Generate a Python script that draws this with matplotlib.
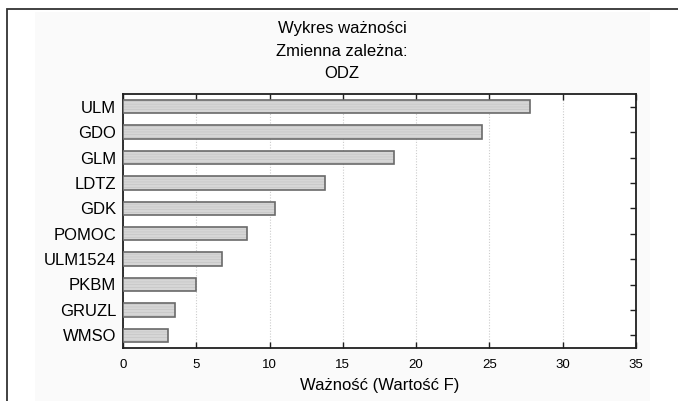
import matplotlib
matplotlib.use("Agg")
import matplotlib.pyplot as plt
from matplotlib.patches import Rectangle

plt.rcParams['font.family'] = ['Liberation Sans', 'DejaVu Sans']

categories = ["ULM", "GDO", "GLM", "LDTZ", "GDK", "POMOC", "ULM1524", "PKBM", "GRUZL", "WMSO"]
values = [27.75, 24.5, 18.5, 13.75, 10.4, 8.45, 6.75, 5.0, 3.55, 3.05]
xticks = [0, 5, 10, 15, 20, 25, 30, 35]
title_lines = ["Wykres ważności", "Zmienna zależna:", "ODZ"]
xlabel = "Ważność (Wartość F)"

W, H = 678, 401
fig = plt.figure(figsize=(W / 100, H / 100), dpi=100)
fig.patch.set_facecolor("white")

# light panel and outer frame
fig.patches.append(Rectangle((35 / W, 0), (650 - 35) / W, 1 - 12 / H,
                             transform=fig.transFigure, facecolor="#fafafa",
                             edgecolor="none", zorder=-2))
fig.patches.append(Rectangle((7 / W, -0.1), 1.2, 1 - 9 / H + 0.1,
                             transform=fig.transFigure, facecolor="none",
                             edgecolor="#333333", linewidth=1.3, zorder=-1))

ax = fig.add_axes([123 / W, 1 - 348 / H, (636 - 123) / W, (348 - 94) / H])
ax.set_zorder(5)
ax.set_facecolor("white")

ypos = list(range(len(categories)))
# texture (fine horizontal lines) + outline
plt.rcParams['hatch.linewidth'] = 0.4
ax.barh(ypos, values, height=0.52, color="#d6d6d6", edgecolor="#c2c2c2",
        linewidth=0, hatch="------", zorder=3)
ax.barh(ypos, values, height=0.52, fill=False, edgecolor="#6a6a6a",
        linewidth=1.2, zorder=4)

ax.set_xlim(0, 35)
ax.set_ylim(len(categories) - 0.5, -0.5)
ax.set_xticks(xticks)
ax.set_xticklabels([str(t) for t in xticks], fontsize=9.5)
ax.set_yticks(ypos)
ax.set_yticklabels(categories, fontsize=12)

ax.tick_params(axis="x", direction="in", length=4, width=1, top=True,
               bottom=True, pad=8, colors="#202020", labelcolor="black")
ax.tick_params(axis="y", direction="in", length=4, width=1, left=True,
               right=True, pad=5, colors="#202020", labelcolor="black")
for s in ax.spines.values():
    s.set_linewidth(1.3)
    s.set_color("#202020")

ax.grid(axis="x", linestyle=(0, (1, 1.5)), color="#cccccc", linewidth=0.8, zorder=1)
ax.set_axisbelow(True)

ax.set_xlabel(xlabel, fontsize=12, labelpad=5)

cx = 342 / W
for line, yb in zip(title_lines, [33.0, 55.5, 78.0]):
    fig.text(cx, 1 - yb / H, line, ha="center", va="baseline", fontsize=12)

fig.savefig("out.png", dpi=100, facecolor="white")
